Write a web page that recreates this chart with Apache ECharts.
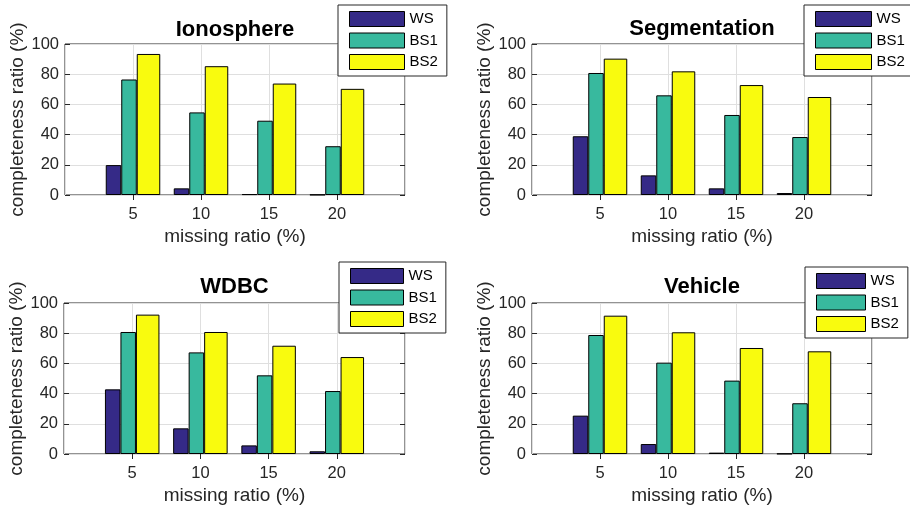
<!DOCTYPE html>
<html>
<head>
<meta charset="utf-8">
<script src="https://cdn.jsdelivr.net/npm/echarts@6/dist/echarts.min.js"></script>
<style>
  html, body { margin: 0; padding: 0; background: #fff; }
  #main { width: 910px; height: 511px; }
</style>
</head>
<body>
<div id="main"></div>
<script>
var categories = ['5', '10', '15', '20']
var seriesNames = ['WS', 'BS1', 'BS2']

var ionosphereWS = [19.8, 4.4, 0.6, 0.2]
var ionosphereBS1 = [76.5, 54.7, 49.2, 32.3]
var ionosphereBS2 = [93.4, 85.3, 73.8, 70.3]

var segmentationWS = [38.9, 13.0, 4.4, 1.3]
var segmentationBS1 = [80.8, 66.0, 53.0, 38.4]
var segmentationBS2 = [90.3, 81.9, 72.8, 64.9]

var wdbcWS = [42.8, 17.0, 5.7, 1.8]
var wdbcBS1 = [80.8, 67.3, 52.1, 41.7]
var wdbcBS2 = [92.3, 80.8, 71.7, 64.2]

var vehicleWS = [25.4, 6.6, 0.9, 0.2]
var vehicleBS1 = [78.8, 60.5, 48.6, 33.6]
var vehicleBS2 = [91.6, 80.6, 70.2, 68.0]

var FONT = "'Liberation Sans', Arial, sans-serif"
var INK = '#262626'
var GRID_LINE = '#dfdfdf'
var COLORS = ['#352a87', '#38b99e', '#f9fb0e']
var BAR_WIDTHS = [15.5, 15.5, 23.5]

// xlim is [0, 25] like the matlab figure, only 5..20 get labels
var axisCats = ['0'].concat(categories, ['25'])

var panels = [
  {
    title: 'Ionosphere', titleTop: 30,
    values: [ionosphereWS, ionosphereBS1, ionosphereBS2],
    grid: { left: 65, top: 44, width: 340, height: 151 },
    legend: { left: 338, top: 5, itemWidth: 55 },
  },
  {
    title: 'Segmentation', titleTop: 29,
    values: [segmentationWS, segmentationBS1, segmentationBS2],
    grid: { left: 532, top: 44, width: 340, height: 151 },
    legend: { left: 804, top: 5, itemWidth: 56 },
  },
  {
    title: 'WDBC', titleTop: 287,
    values: [wdbcWS, wdbcBS1, wdbcBS2],
    grid: { left: 64, top: 303, width: 341, height: 151 },
    legend: { left: 339, top: 262, itemWidth: 53 },
  },
  {
    title: 'Vehicle', titleTop: 287,
    values: [vehicleWS, vehicleBS1, vehicleBS2],
    grid: { left: 532, top: 303, width: 340, height: 151 },
    legend: { left: 805, top: 267, itemWidth: 49 },
  },
]

function padData(values) {
  return ['-'].concat(values, ['-'])
}

// no ticks on the box corners
function innerTick(idx) {
  return idx > 0 && idx < axisCats.length - 1
}

function initFigure() {
  var chart = echarts.init(document.getElementById('main'))
  var option = {
    animation: false,
    backgroundColor: '#fff',
    textStyle: { fontFamily: FONT },
    title: [],
    legend: [],
    grid: [],
    xAxis: [],
    yAxis: [],
    series: [],
  }

  panels.forEach(function (p, i) {
    option.grid.push({
      left: p.grid.left,
      top: p.grid.top,
      width: p.grid.width,
      height: p.grid.height,
      show: true,
      borderColor: INK,
      borderWidth: 1,
      backgroundColor: 'transparent',
      containLabel: false,
      outerBoundsMode: 'none',
    })

    option.title.push({
      text: p.title,
      left: p.grid.left + p.grid.width / 2,
      top: p.titleTop,
      padding: 0,
      textAlign: 'center',
      textVerticalAlign: 'middle',
      textStyle: { fontSize: 22, fontWeight: 'bold', color: '#000', fontFamily: FONT },
    })

    option.legend.push({
      data: seriesNames,
      orient: 'vertical',
      left: p.legend.left,
      top: p.legend.top,
      padding: [6, 9, 6, 11],
      itemGap: 5.5,
      itemWidth: p.legend.itemWidth,
      itemHeight: 15,
      icon: 'rect',
      backgroundColor: '#fff',
      borderColor: INK,
      borderWidth: 1,
      borderRadius: 0,
      selectedMode: false,
      itemStyle: { borderWidth: 1, borderColor: '#000' },
      textStyle: { fontSize: 15, lineHeight: 15, color: '#000', fontFamily: FONT, padding: 0 },
    })

    // bottom + left axes carry the data
    option.xAxis.push({
      gridIndex: i,
      type: 'category',
      data: axisCats,
      boundaryGap: false,
      name: 'missing ratio (%)',
      nameLocation: 'middle',
      nameGap: 32,
      nameTextStyle: { fontSize: 19, color: INK, fontFamily: FONT },
      axisLine: { show: false },
      axisTick: { show: true, inside: true, length: 5, interval: innerTick, lineStyle: { color: INK } },
      axisLabel: {
        interval: 0,
        margin: 11,
        fontSize: 16.5,
        color: INK,
        fontFamily: FONT,
        formatter: function (v, idx) {
          return idx === 0 || idx === axisCats.length - 1 ? '' : v
        },
      },
      splitLine: { show: true, lineStyle: { color: GRID_LINE, width: 1 } },
    })
    option.yAxis.push({
      gridIndex: i,
      type: 'value',
      min: 0,
      max: 100,
      interval: 20,
      name: 'completeness ratio (%)',
      nameLocation: 'middle',
      nameGap: 32,
      nameTextStyle: { fontSize: 19, color: INK, fontFamily: FONT },
      axisLine: { show: false },
      axisTick: { show: true, inside: true, length: 5, lineStyle: { color: INK } },
      axisLabel: { margin: 6, fontSize: 16.5, color: INK, fontFamily: FONT },
      splitLine: { show: true, lineStyle: { color: GRID_LINE, width: 1 } },
    })
    // top + right axes only for the inward ticks of the box
    option.xAxis.push({
      gridIndex: i,
      type: 'category',
      position: 'top',
      data: axisCats,
      boundaryGap: false,
      axisLine: { show: false },
      axisTick: { show: true, inside: true, length: 5, interval: innerTick, lineStyle: { color: INK } },
      axisLabel: { show: false },
      splitLine: { show: false },
    })
    option.yAxis.push({
      gridIndex: i,
      type: 'value',
      position: 'right',
      min: 0,
      max: 100,
      interval: 20,
      axisLine: { show: false },
      axisTick: { show: true, inside: true, length: 5, lineStyle: { color: INK } },
      axisLabel: { show: false },
      splitLine: { show: false },
    })

    seriesNames.forEach(function (name, k) {
      option.series.push({
        name: name,
        type: 'bar',
        xAxisIndex: i * 2,
        yAxisIndex: i * 2,
        data: padData(p.values[k]),
        barWidth: BAR_WIDTHS[k],
        barGap: '0%',
        itemStyle: {
          color: COLORS[k],
          borderColor: '#000',
          borderWidth: 1,
        },
        emphasis: { disabled: true },
      })
    })
  })

  chart.setOption(option)

  window.addEventListener('resize', function () {
    chart.resize()
  })
}

initFigure()
</script>
</body>
</html>
